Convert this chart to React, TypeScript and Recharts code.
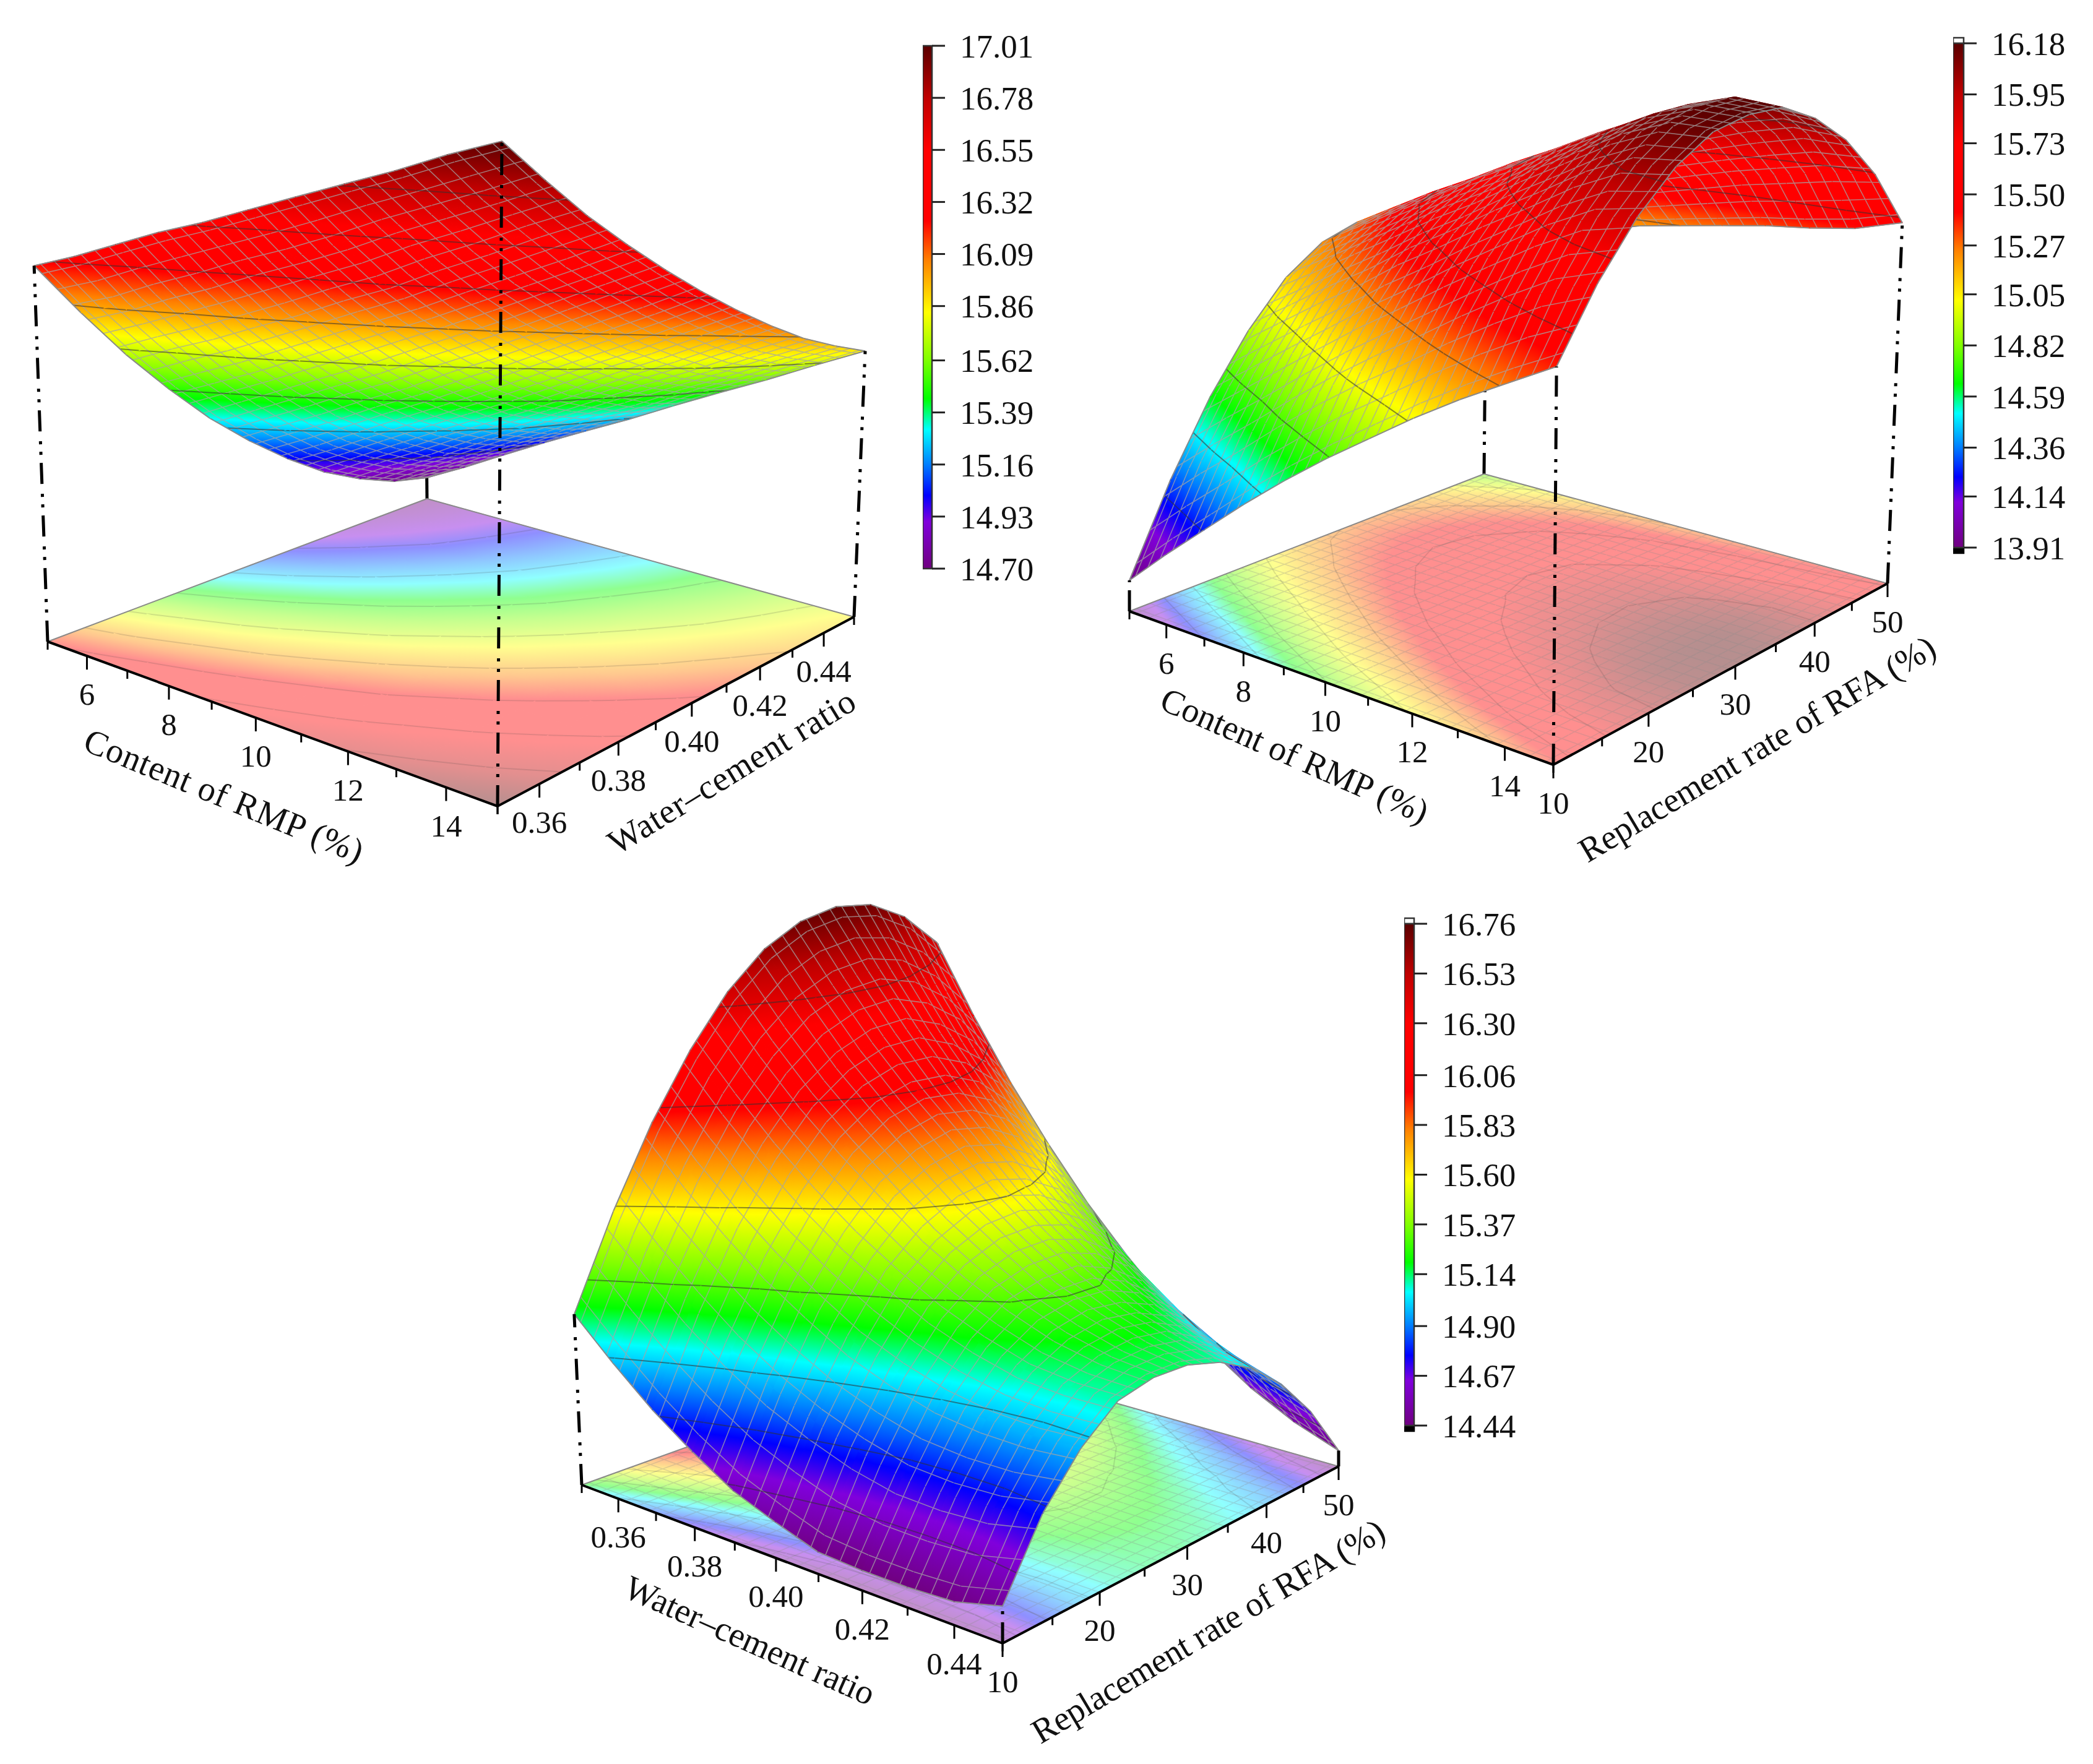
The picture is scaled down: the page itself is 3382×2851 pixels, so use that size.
import { Bar, ComposedChart, ReferenceArea, Scatter, ScatterChart, XAxis, YAxis } from 'recharts'

const WIDTH = 3382
const HEIGHT = 2851
const SERIF = '"Liberation Serif", "Times New Roman", serif'

// Factor levels
const RMP_VALUES = [5, 6, 7, 8, 9, 10, 11, 12, 13, 14, 15]
const WC_VALUES = [0.35, 0.36, 0.37, 0.38, 0.39, 0.4, 0.41, 0.42, 0.43, 0.44, 0.45]
const RFA_VALUES = [10, 14, 18, 22, 26, 30, 34, 38, 42, 46, 50]

// Surface values: rows follow the first factor, columns the second
const RMP_WC_SURFACE = [
  [16.22, 15.96, 15.72, 15.51, 15.32, 15.16, 15.02, 14.9, 14.81, 14.74, 14.7],
  [16.29, 16.03, 15.81, 15.6, 15.42, 15.26, 15.12, 15.01, 14.92, 14.85, 14.8],
  [16.37, 16.12, 15.89, 15.69, 15.52, 15.36, 15.23, 15.12, 15.02, 14.96, 14.91],
  [16.45, 16.2, 15.98, 15.79, 15.62, 15.47, 15.34, 15.23, 15.14, 15.07, 15.02],
  [16.52, 16.29, 16.07, 15.89, 15.72, 15.57, 15.45, 15.34, 15.25, 15.18, 15.13],
  [16.6, 16.37, 16.17, 15.99, 15.83, 15.69, 15.56, 15.45, 15.37, 15.3, 15.24],
  [16.68, 16.46, 16.26, 16.09, 15.94, 15.8, 15.68, 15.57, 15.49, 15.41, 15.36],
  [16.76, 16.56, 16.37, 16.2, 16.05, 15.92, 15.8, 15.7, 15.61, 15.54, 15.48],
  [16.84, 16.65, 16.47, 16.31, 16.17, 16.04, 15.92, 15.82, 15.73, 15.66, 15.6],
  [16.93, 16.74, 16.58, 16.42, 16.29, 16.16, 16.05, 15.95, 15.86, 15.79, 15.73],
  [17.01, 16.84, 16.68, 16.54, 16.41, 16.29, 16.18, 16.08, 15.99, 15.92, 15.86],
]

const RMP_RFA_SURFACE = [
  [13.91, 14.31, 14.64, 14.9, 15.1, 15.22, 15.27, 15.25, 15.17, 15.01, 14.78],
  [14.09, 14.47, 14.78, 15.03, 15.21, 15.33, 15.38, 15.36, 15.28, 15.13, 14.92],
  [14.26, 14.62, 14.92, 15.16, 15.33, 15.44, 15.49, 15.47, 15.39, 15.25, 15.04],
  [14.43, 14.78, 15.06, 15.28, 15.45, 15.55, 15.59, 15.57, 15.49, 15.35, 15.15],
  [14.59, 14.93, 15.2, 15.42, 15.57, 15.67, 15.7, 15.68, 15.58, 15.43, 15.21],
  [14.74, 15.07, 15.33, 15.54, 15.68, 15.77, 15.8, 15.77, 15.66, 15.49, 15.25],
  [14.88, 15.2, 15.47, 15.67, 15.81, 15.89, 15.91, 15.87, 15.74, 15.55, 15.29],
  [15.02, 15.34, 15.6, 15.79, 15.93, 16.0, 16.01, 15.96, 15.81, 15.61, 15.33],
  [15.15, 15.47, 15.73, 15.92, 16.05, 16.11, 16.11, 16.05, 15.88, 15.66, 15.36],
  [15.27, 15.59, 15.84, 16.02, 16.14, 16.18, 16.18, 16.1, 15.94, 15.71, 15.4],
  [15.39, 15.67, 15.89, 16.05, 16.15, 16.18, 16.17, 16.08, 15.94, 15.74, 15.47],
]

const WC_RFA_SURFACE = [
  [15.16, 15.58, 15.94, 16.23, 16.46, 16.62, 16.71, 16.74, 16.71, 16.61, 16.44],
  [14.98, 15.39, 15.73, 16.01, 16.22, 16.37, 16.45, 16.47, 16.42, 16.3, 16.12],
  [14.82, 15.22, 15.55, 15.81, 16.01, 16.14, 16.21, 16.22, 16.15, 16.03, 15.83],
  [14.69, 15.07, 15.39, 15.64, 15.83, 15.95, 16.0, 15.99, 15.92, 15.77, 15.57],
  [14.58, 14.95, 15.26, 15.49, 15.67, 15.77, 15.82, 15.79, 15.7, 15.55, 15.33],
  [14.51, 14.86, 15.14, 15.37, 15.51, 15.6, 15.63, 15.59, 15.5, 15.34, 15.12],
  [14.45, 14.79, 15.06, 15.26, 15.39, 15.46, 15.47, 15.43, 15.33, 15.16, 14.93],
  [14.44, 14.74, 15.0, 15.18, 15.29, 15.33, 15.34, 15.28, 15.17, 15.01, 14.77],
  [14.44, 14.73, 14.97, 15.12, 15.21, 15.25, 15.23, 15.17, 15.05, 14.89, 14.63],
  [14.45, 14.74, 14.96, 15.1, 15.16, 15.18, 15.16, 15.08, 14.96, 14.78, 14.52],
  [14.5, 14.78, 14.97, 15.1, 15.14, 15.14, 15.1, 15.02, 14.89, 14.7, 14.44],
]

// Contour levels
const RMP_WC_LEVELS = [15.0, 15.25, 15.5, 15.75, 16.0, 16.25, 16.5, 16.75]
const RMP_RFA_LEVELS = [14.25, 14.5, 14.75, 15.0, 15.25, 15.5, 15.75, 16.0]
const WC_RFA_LEVELS = [14.6, 14.8, 15.0, 15.3, 15.6, 16.0, 16.4]

// Colour bar tick labels
const RMP_WC_TICKS = [17.01, 16.78, 16.55, 16.32, 16.09, 15.86, 15.62, 15.39, 15.16, 14.93, 14.7]
const RMP_RFA_TICKS = [16.18, 15.95, 15.73, 15.5, 15.27, 15.05, 14.82, 14.59, 14.36, 14.14, 13.91]
const WC_RFA_TICKS = [16.76, 16.53, 16.3, 16.06, 15.83, 15.6, 15.37, 15.14, 14.9, 14.67, 14.44]

// Axis ticks on the floor of each plot
const RMP_MAJOR = [6, 8, 10, 12, 14]
const RMP_MINOR = [5, 7, 9, 11, 13, 15]
const WC_MAJOR = [0.36, 0.38, 0.4, 0.42, 0.44]
const WC_MINOR = [0.35, 0.37, 0.39, 0.41, 0.43, 0.45]
const RFA_MAJOR = [10, 20, 30, 40, 50]
const RFA_MINOR = [15, 25, 35, 45]

// fraction of the colour range, colour
const COLOR_STOPS: [number, number[]][] = [
  [0, [112, 0, 128]],
  [0.09, [128, 0, 220]],
  [0.14, [0, 0, 255]],
  [0.2, [0, 128, 255]],
  [0.266, [0, 255, 255]],
  [0.325, [0, 255, 0]],
  [0.4, [128, 255, 0]],
  [0.49, [255, 255, 0]],
  [0.59, [255, 128, 0]],
  [0.665, [255, 0, 0]],
  [0.8, [255, 0, 0]],
  [0.9, [192, 0, 0]],
  [1, [90, 0, 0]],
]

const colorAt = (f: number, pale: boolean) => {
  const v = Math.min(1, Math.max(0, f))
  let k = 0
  while (k < COLOR_STOPS.length - 2 && COLOR_STOPS[k + 1][0] < v) k++
  const [f0, c0] = COLOR_STOPS[k]
  const [f1, c1] = COLOR_STOPS[k + 1]
  const m = (v - f0) / (f1 - f0)
  const rgb = c0.map((c, n) => c + (c1[n] - c) * m).map((c) => (pale ? c * 0.44 + 255 * 0.56 : c))
  return `rgb(${rgb.map((c) => Math.round(c)).join(',')})`
}

type Pt = { x: number; y: number }

// L, F, R, B: left, front, right and back corner of the floor
const LAYOUTS = [
  {
    floor: [{ x: 77, y: 1037 }, { x: 804, y: 1303 }, { x: 1380, y: 997 }, { x: 690, y: 806 }],
    rise: [375, 446, 341, 340],
    lean: [-0.036, 0.0065, 0.042, -0.01],
    zFloor: 14.6,
    floorMesh: false,
    titles: [
      { text: 'Content of RMP (%)', x: 362, y: 1286, angle: 22.5, length: 483 },
      { text: 'Water\u2013cement ratio', x: 1182, y: 1247, angle: -31.5, length: 457 },
    ],
  },
  {
    floor: [{ x: 1825, y: 988 }, { x: 2510, y: 1236 }, { x: 3050, y: 943 }, { x: 2398, y: 766 }],
    rise: [345, 396, 342, 310],
    lean: [0, 0.008, 0.041, 0.01],
    zFloor: 13.765,
    floorMesh: true,
    titles: [
      { text: 'Content of RMP (%)', x: 2092, y: 1221, angle: 23.7, length: 466 },
      { text: 'Replacement rate of RFA (%)', x: 2839, y: 1210, angle: -30.8, length: 660 },
    ],
  },
  {
    floor: [{ x: 940, y: 2400 }, { x: 1620, y: 2656 }, { x: 2163, y: 2370 }, { x: 1526, y: 2189 }],
    rise: [345, 430, 320, 320],
    lean: [-0.044, 0, 0, -0.018],
    zFloor: 14.36,
    floorMesh: true,
    titles: [
      { text: 'Water\u2013cement ratio', x: 1212, y: 2651, angle: 24, length: 436 },
      { text: 'Replacement rate of RFA (%)', x: 1952, y: 2636, angle: -30.8, length: 653 },
    ],
  },
]

const PLOTS = [
  {
    grid: RMP_WC_SURFACE, levels: RMP_WC_LEVELS, ticks: RMP_WC_TICKS,
    first: { values: RMP_VALUES, major: RMP_MAJOR, minor: RMP_MINOR, digits: 0 },
    second: { values: WC_VALUES, major: WC_MAJOR, minor: WC_MINOR, digits: 2 },
  },
  {
    grid: RMP_RFA_SURFACE, levels: RMP_RFA_LEVELS, ticks: RMP_RFA_TICKS,
    first: { values: RMP_VALUES, major: RMP_MAJOR, minor: RMP_MINOR, digits: 0 },
    second: { values: RFA_VALUES, major: RFA_MAJOR, minor: RFA_MINOR, digits: 0 },
  },
  {
    grid: WC_RFA_SURFACE, levels: WC_RFA_LEVELS, ticks: WC_RFA_TICKS,
    first: { values: WC_VALUES, major: WC_MAJOR, minor: WC_MINOR, digits: 2 },
    second: { values: RFA_VALUES, major: RFA_MAJOR, minor: RFA_MINOR, digits: 0 },
  },
]

function makeProjection(layout: (typeof LAYOUTS)[number]) {
  const [p0, p1, p2, p3] = layout.floor
  const dx1 = p1.x - p2.x, dx2 = p3.x - p2.x, sx = p0.x - p1.x + p2.x - p3.x
  const dy1 = p1.y - p2.y, dy2 = p3.y - p2.y, sy = p0.y - p1.y + p2.y - p3.y
  const det = dx1 * dy2 - dx2 * dy1
  const g = (sx * dy2 - dx2 * sy) / det
  const h = (dx1 * sy - sx * dy1) / det
  const mix = (v: number[], s: number, t: number) =>
    v[0] * (1 - s) * (1 - t) + v[1] * s * (1 - t) + v[2] * s * t + v[3] * (1 - s) * t
  return (s: number, t: number, z: number): Pt => {
    const w = g * s + h * t + 1
    const fx = ((p1.x - p0.x + g * p1.x) * s + (p3.x - p0.x + h * p3.x) * t + p0.x) / w
    const fy = ((p1.y - p0.y + g * p1.y) * s + (p3.y - p0.y + h * p3.y) * t + p0.y) / w
    const lift = (z - layout.zFloor) * mix(layout.rise, s, t)
    return { x: fx + lift * mix(layout.lean, s, t), y: fy - lift }
  }
}

const lerp = (a: Pt, b: Pt, f: number): Pt => ({ x: a.x + (b.x - a.x) * f, y: a.y + (b.y - a.y) * f })
const seg = (a: Pt, b: Pt) => `M${a.x.toFixed(1)} ${a.y.toFixed(1)}L${b.x.toFixed(1)} ${b.y.toFixed(1)}`

const MESH_AT = [1 / 6, 1 / 2, 5 / 6]

function contourPath(pts: Pt[], zs: number[], levels: number[]) {
  let d = ''
  levels.forEach((level) => {
    const hits: Pt[] = []
    pts.forEach((p, n) => {
      const q = pts[(n + 1) % 4]
      const a = zs[n], b = zs[(n + 1) % 4]
      if ((a < level) !== (b < level)) hits.push(lerp(p, q, (level - a) / (b - a)))
    })
    for (let n = 0; n + 1 < hits.length; n += 2) d += seg(hits[n], hits[n + 1])
  })
  return d
}

function meshPath(pts: Pt[]) {
  const [a, b, c, e] = pts
  return MESH_AT.map((f) => seg(lerp(a, b, f), lerp(e, c, f)) + seg(lerp(a, e, f), lerp(b, c, f))).join('')
}

// One quad of a surface or of its projection on the floor
function CellMark(props: any) {
  const row = props.payload
  const ox = props.cx - row.x
  const oy = props.cy - row.y
  const pts: Pt[] = row.pts.map((p: Pt) => ({ x: p.x + ox, y: p.y + oy }))
  const zs: number[] = row.zs
  const zLo = Math.min(...zs), zHi = Math.max(...zs)
  const [zMin, zMax] = row.range
  const frac = (z: number) => (z - zMin) / (zMax - zMin)
  const mean = zs.reduce((a, b) => a + b, 0) / 4
  const cx = pts.reduce((a, p) => a + p.x, 0) / 4
  const cy = pts.reduce((a, p) => a + p.y, 0) / 4
  const v1 = { x: pts[2].x - pts[0].x, y: pts[2].y - pts[0].y }
  const v2 = { x: pts[3].x - pts[1].x, y: pts[3].y - pts[1].y }
  const dz1 = zs[2] - zs[0], dz2 = zs[3] - zs[1]
  const det = v1.x * v2.y - v1.y * v2.x
  const gx = (dz1 * v2.y - dz2 * v1.y) / det
  const gy = (v1.x * dz2 - v2.x * dz1) / det
  const g2 = gx * gx + gy * gy
  const flat = Math.abs(det) < 30 || !(g2 > 0) || zHi - zLo < 0.001
  const fill = flat ? colorAt(frac(mean), row.pale) : `url(#${row.id})`
  const fLo = frac(zLo), fHi = frac(zHi)
  const fs = [fLo, ...COLOR_STOPS.map((c) => c[0]).filter((f) => f > fLo && f < fHi), fHi]
  return (
    <g>
      {!flat && (
        <defs>
          <linearGradient
            id={row.id}
            gradientUnits="userSpaceOnUse"
            x1={cx + (gx / g2) * (zLo - mean)}
            y1={cy + (gy / g2) * (zLo - mean)}
            x2={cx + (gx / g2) * (zHi - mean)}
            y2={cy + (gy / g2) * (zHi - mean)}
          >
            {fs.map((f) => (
              <stop key={f} offset={(f - fLo) / (fHi - fLo)} stopColor={colorAt(f, row.pale)} />
            ))}
          </linearGradient>
        </defs>
      )}
      <polygon points={pts.map((p) => `${p.x},${p.y}`).join(' ')} fill={fill} stroke={fill} strokeWidth={1.3} />
      {row.mesh && <path d={meshPath(pts)} fill="none" stroke={row.meshColor} strokeWidth={1.6} />}
      <path d={contourPath(pts, zs, row.levels)} fill="none" stroke={row.contourColor} strokeWidth={2} />
      {row.edges.length > 0 && (
        <path
          d={row.edges.map((n: number) => seg(pts[n], pts[(n + 1) % 4])).join('')}
          fill="none"
          stroke="#8a8a8a"
          strokeWidth={2}
        />
      )}
    </g>
  )
}

function LineMark(props: any) {
  const row = props.payload
  const ox = props.cx - row.x
  const oy = props.cy - row.y
  return (
    <line
      x1={props.cx}
      y1={props.cy}
      x2={row.x2 + ox}
      y2={row.y2 + oy}
      stroke={row.color}
      strokeWidth={row.weight}
      strokeDasharray={row.dash}
    />
  )
}

function TextMark(props: any) {
  const row = props.payload
  return (
    <text
      x={props.cx}
      y={props.cy}
      textAnchor="middle"
      dominantBaseline="central"
      fontFamily={SERIF}
      fontSize={row.size}
      fill="#111"
      textLength={row.length}
      lengthAdjust={row.length ? 'spacing' : undefined}
      transform={row.angle ? `rotate(${row.angle} ${props.cx} ${props.cy})` : undefined}
    >
      {row.text}
    </text>
  )
}

const floorRows: any[] = []
const surfaceRows: any[] = []
const backLineRows: any[] = []
const frontLineRows: any[] = []
const axisRows: any[] = []
const textRows: any[] = []

const DROP_DASH = '34 13 5 12 5 16'

PLOTS.forEach((plot, index) => {
  const layout = LAYOUTS[index]
  const project = makeProjection(layout)
  const { grid, levels, ticks, first, second } = plot
  const range = [Math.min(...ticks), Math.max(...ticks)]
  const last = grid.length - 1

  // far cells first, the front corner is first factor high, second factor low
  for (let i = 0; i < last; i++) {
    for (let j = last - 1; j >= 0; j--) {
      const corners = [[i, j], [i + 1, j], [i + 1, j + 1], [i, j + 1]]
      const zs = corners.map(([a, b]) => grid[a][b])
      const edges = [j === 0 ? 0 : -1, i === last - 1 ? 1 : -1, j === last - 1 ? 2 : -1, i === 0 ? 3 : -1].filter((n) => n >= 0)
      const base = { zs, range, levels, edges }
      const flatPts = corners.map(([a, b]) => project(a / last, b / last, layout.zFloor))
      const topPts = corners.map(([a, b]) => project(a / last, b / last, grid[a][b]))
      floorRows.push({
        ...base, x: flatPts[0].x, y: flatPts[0].y, pts: flatPts, pale: true,
        id: `floor-${index}-${i}-${j}`, mesh: layout.floorMesh,
        meshColor: 'rgba(140,140,140,0.28)', contourColor: 'rgba(70,70,70,0.16)', edges: [],
      })
      surfaceRows.push({
        ...base, x: topPts[0].x, y: topPts[0].y, pts: topPts, pale: false,
        id: `top-${index}-${i}-${j}`, mesh: true,
        meshColor: 'rgba(165,165,165,0.72)', contourColor: 'rgba(50,50,50,0.55)',
      })
    }
  }

  // dash-dot drop lines at the four corners
  const cornerIdx = [[0, 0], [last, 0], [last, last], [0, last]]
  cornerIdx.forEach(([a, b], n) => {
    const p = project(a / last, b / last, layout.zFloor)
    const q = project(a / last, b / last, grid[a][b])
    const row = { x: p.x, y: p.y, x2: q.x, y2: q.y, color: '#000', weight: 5, dash: DROP_DASH }
    if (n === 3) backLineRows.push(row)
    else frontLineRows.push(row)
  })

  // floor outline
  const [cl, cf, cr, cb] = cornerIdx.map(([a, b]) => project(a / last, b / last, layout.zFloor))
  backLineRows.push({ x: cl.x, y: cl.y, x2: cb.x, y2: cb.y, color: '#8a8a8a', weight: 2 })
  backLineRows.push({ x: cb.x, y: cb.y, x2: cr.x, y2: cr.y, color: '#8a8a8a', weight: 2 })
  axisRows.push({ x: cl.x, y: cl.y, x2: cf.x, y2: cf.y, color: '#000', weight: 4 })
  axisRows.push({ x: cf.x, y: cf.y, x2: cr.x, y2: cr.y, color: '#000', weight: 4 })

  // tick marks hang straight down from the two front edges
  const addTicks = (axis: typeof first, place: (f: number) => Pt) => {
    const lo = axis.values[0]
    const hi = axis.values[axis.values.length - 1]
    axis.minor.forEach((v) => {
      const p = place((v - lo) / (hi - lo))
      axisRows.push({ x: p.x, y: p.y, x2: p.x, y2: p.y + 13, color: '#000', weight: 3 })
    })
    axis.major.forEach((v) => {
      const p = place((v - lo) / (hi - lo))
      axisRows.push({ x: p.x, y: p.y, x2: p.x, y2: p.y + 22, color: '#000', weight: 3 })
      textRows.push({ x: p.x, y: p.y + 62, text: v.toFixed(axis.digits), size: 51 })
    })
  }
  addTicks(first, (f) => project(f, 0, layout.zFloor))
  addTicks(second, (f) => project(1, f, layout.zFloor))

  layout.titles.forEach((title) => {
    textRows.push({ ...title, size: 56 })
  })
})

const BARS = [
  { ticks: RMP_WC_TICKS, left: 1491, top: 74, bottom: 919, width: 15, caps: false },
  { ticks: RMP_RFA_TICKS, left: 3156, top: 70, bottom: 885, width: 17, caps: true },
  { ticks: WC_RFA_TICKS, left: 2269, top: 1493, bottom: 2304, width: 16, caps: true },
]

function ColorBar({ bar, id }: { bar: (typeof BARS)[number]; id: string }) {
  const hi = bar.ticks[0]
  const lo = bar.ticks[bar.ticks.length - 1]
  const cap = bar.caps ? ((hi - lo) / (bar.bottom - bar.top)) * 9 : 0
  const pad = 40
  const axisWidth = 190
  const data = [{ name: 'range', range: [lo, hi] }]
  return (
    <div style={{ position: 'absolute', left: bar.left, top: bar.top - pad - (bar.caps ? 9 : 0) }}>
      <ComposedChart
        width={bar.width + axisWidth}
        height={bar.bottom - bar.top + 2 * pad + (bar.caps ? 18 : 0)}
        data={data}
        margin={{ top: pad, bottom: pad, left: 0, right: 0 }}
        barCategoryGap={0}
      >
        <defs>
          <linearGradient id={id} x1="0" y1="1" x2="0" y2="0">
            {COLOR_STOPS.map(([f]) => (
              <stop key={f} offset={f} stopColor={colorAt(f, false)} />
            ))}
          </linearGradient>
        </defs>
        <XAxis dataKey="name" hide />
        <YAxis
          orientation="right"
          type="number"
          domain={[lo - cap, hi + cap]}
          ticks={bar.ticks}
          interval={0}
          width={axisWidth}
          axisLine={false}
          tickSize={21}
          tickMargin={24}
          tickLine={{ stroke: '#222', strokeWidth: 3 }}
          tick={{ fontFamily: SERIF, fontSize: 53, fill: '#111' }}
          tickFormatter={(v: number) => v.toFixed(2)}
        />
        <Bar dataKey="range" fill={`url(#${id})`} stroke="#333" strokeWidth={2.5} isAnimationActive={false} />
        {bar.caps && <ReferenceArea y1={hi} y2={hi + cap} fill="#fff" fillOpacity={1} stroke="#333" strokeWidth={2.5} />}
        {bar.caps && <ReferenceArea y1={lo - cap} y2={lo} fill="#000" fillOpacity={1} stroke="#000" strokeWidth={2.5} />}
      </ComposedChart>
    </div>
  )
}

export default function App() {
  return (
    <div style={{ position: 'absolute', left: 0, top: 0, width: WIDTH, height: HEIGHT, background: '#fff' }}>
      <ScatterChart width={WIDTH} height={HEIGHT} margin={{ top: 0, right: 0, bottom: 0, left: 0 }}>
        <XAxis type="number" dataKey="x" domain={[0, WIDTH]} allowDataOverflow hide />
        <YAxis type="number" dataKey="y" domain={[0, HEIGHT]} reversed allowDataOverflow hide />
        <Scatter data={floorRows} shape={CellMark} isAnimationActive={false} />
        <Scatter data={backLineRows} shape={LineMark} isAnimationActive={false} />
        <Scatter data={surfaceRows} shape={CellMark} isAnimationActive={false} />
        <Scatter data={frontLineRows} shape={LineMark} isAnimationActive={false} />
        <Scatter data={axisRows} shape={LineMark} isAnimationActive={false} />
        <Scatter data={textRows} shape={TextMark} isAnimationActive={false} />
      </ScatterChart>
      {BARS.map((bar, n) => (
        <ColorBar key={n} bar={bar} id={`bar-colors-${n}`} />
      ))}
    </div>
  )
}
